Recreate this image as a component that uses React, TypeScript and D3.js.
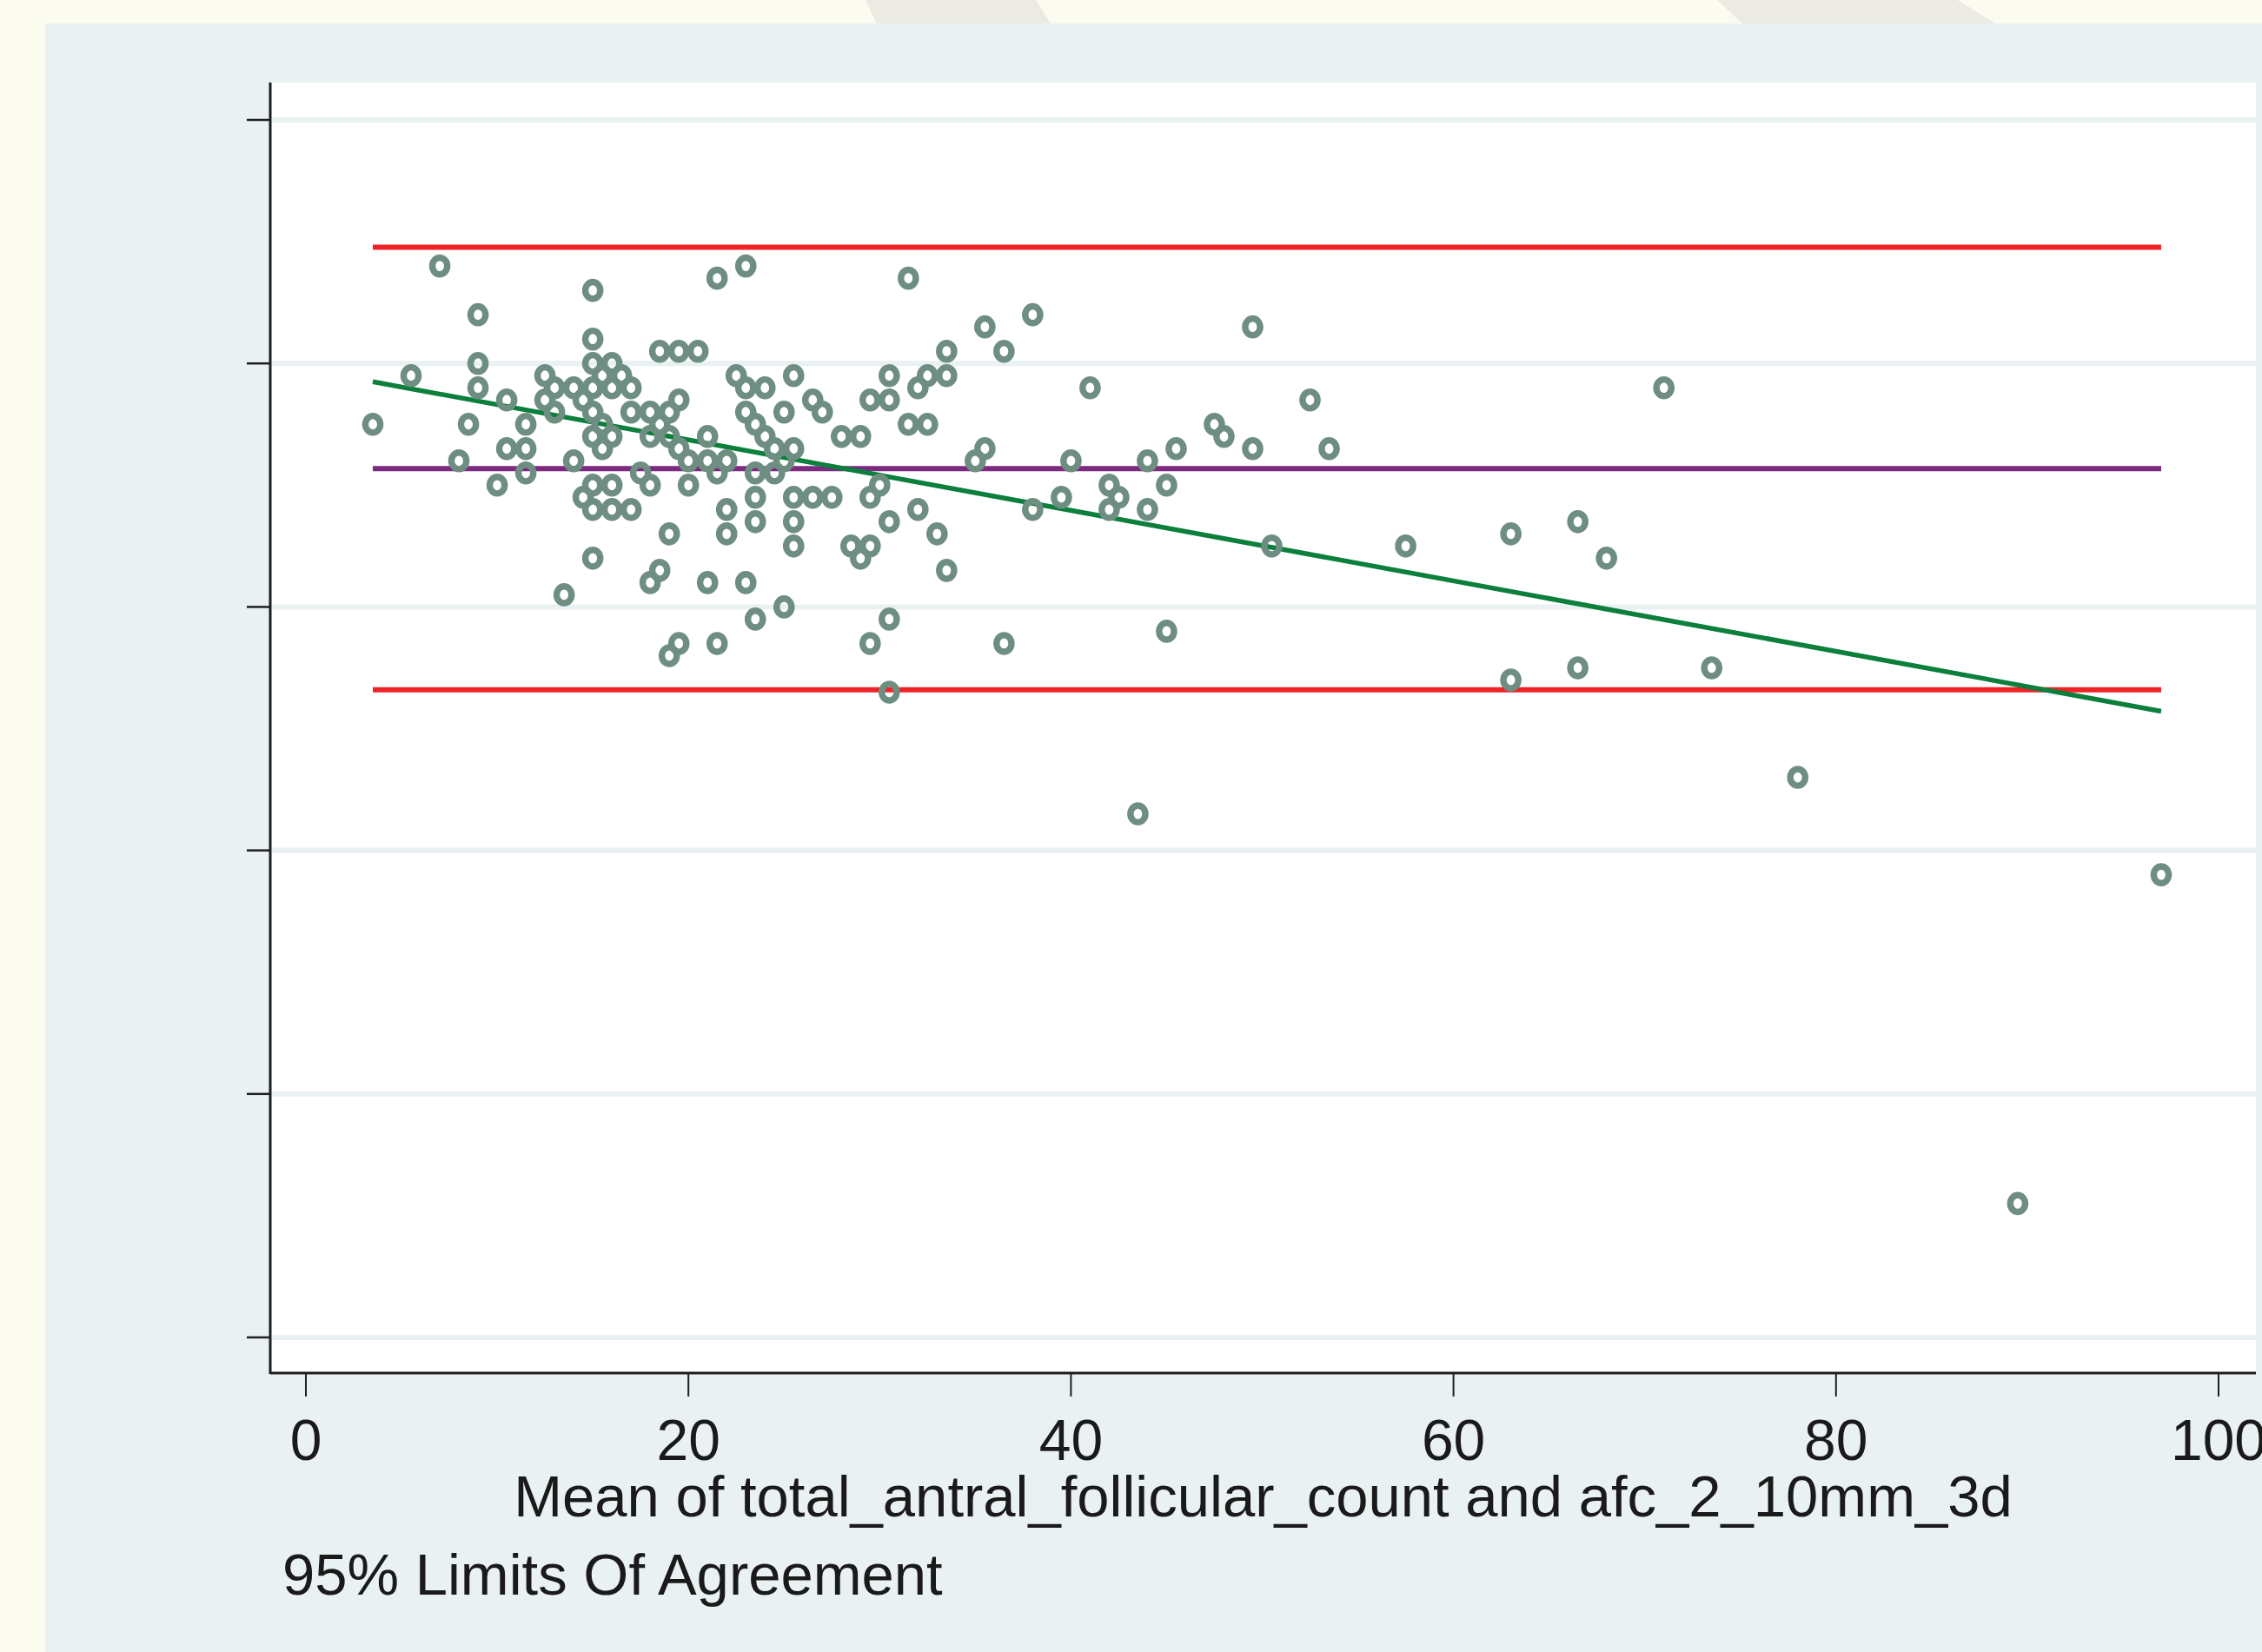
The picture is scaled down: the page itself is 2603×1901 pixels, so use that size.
import React, { useEffect } from "react";
import * as d3 from "d3";

// ---- Data (Bland-Altman: mean of the two counts vs. difference) ----
const meanAFC: number[] = [
  // zone 1 (means <= 24.5)
  7, 23, 21.5, 15, 9, 15, 18.5, 19.5, 20.5, 9, 15, 16,
  5.5, 12.5, 15.5, 16.5, 22.5,
  9, 13, 14, 15, 16, 17, 23, 24,
  10.5, 12.5, 14.5, 19.5,
  13, 15, 17, 18, 19, 23,
  3.5, 8.5, 11.5, 15.5, 18.5, 23.5,
  15, 16, 18, 19, 21, 24,
  10.5, 11.5, 15.5, 19.5, 24.5,
  8, 14, 20, 21, 22,
  11.5, 17.5, 21.5, 23.5, 24.5,
  10, 15, 16, 18, 20,
  14.5, 23.5,
  15, 16, 17, 22,
  23.5,
  19, 22,
  15, 18.5, 18, 21, 23, 13.5, 23.5, 19.5, 21.5, 19,
  // zone 2 (means 25 - 48)
  31.5, 38, 35.5, 33.5, 36.5,
  25.5, 30.5, 32.5, 33.5,
  32, 41,
  26.5, 29.5, 30.5,
  25, 27,
  31.5, 32.5, 47.5,
  28, 29, 48,
  25.5, 35.5, 45.5,
  25, 35, 40, 44,
  30, 42, 45,
  25.5, 26.5, 27.5, 29.5, 39.5, 42.5,
  32, 38, 42, 44,
  25.5, 30.5,
  33,
  25.5, 28.5, 29.5,
  29, 33.5,
  25, 30.5, 45, 29.5, 36.5, 30.5, 43.5,
  // zone 3 (means > 48)
  49.5, 52.5, 49.5, 53.5, 71, 50.5, 57.5, 63, 66.5, 68, 63, 66.5,
  73.5, 78, 97, 89.5,
];

const diffAFC: number[] = [
  28, 28, 27, 26, 24, 22, 21, 21, 21, 20, 20, 20,
  19, 19, 19, 19, 19,
  18, 18, 18, 18, 18, 18, 18, 18,
  17, 17, 17, 17,
  16, 16, 16, 16, 16, 16,
  15, 15, 15, 15, 15, 15,
  14, 14, 14, 14, 14, 14,
  13, 13, 13, 13, 13,
  12, 12, 12, 12, 12,
  11, 11, 11, 11, 11,
  10, 10, 10, 10, 10,
  9, 9,
  8, 8, 8, 8,
  7,
  6, 6,
  4, 3, 2, 2, 2, 1, -1, -3, -3, -4,
  27, 24, 23, 21, 21,
  19, 19, 19, 19,
  18, 18,
  17, 17, 17,
  16, 16,
  15, 15, 15,
  14, 14, 14,
  13, 13, 13,
  12, 12, 12, 12,
  10, 10, 10,
  9, 9, 9, 9, 9, 9,
  8, 8, 8, 8,
  7, 7,
  6,
  5, 5, 5,
  4, 3,
  0, -1, -2, -3, -3, -7, -17,
  23, 17, 13, 13, 18, 5, 5, 6, 7, 4, -6, -5,
  -5, -14, -22, -49,
];

const meanDifference = 11.36;
const upperLimit = 29.55;
const lowerLimit = -6.8;
const regIntercept = 19.51;
const regSlope = -0.2895;

const xTicks: number[] = [0, 20, 40, 60, 80, 100];
const yTicks: number[] = [-60, -40, -20, 0, 20, 40];
const xTitle = "Mean of total_antral_follicular_count and afc_2_10mm_3d";
const noteText = "95% Limits Of Agreement";

// ---- Layout / style ----
const W = 2603;
const H = 1901;
const plotLeft = 311;
const plotRight = 2596;
const plotTop = 95;
const plotBottom = 1580;
const FONT = "'Liberation Sans', Arial, Helvetica, sans-serif";

const COL = {
  outer: "#fbfbef",
  stripe: "#ebebe3",
  panel: "#e9f1f3",
  grid: "#e9f1f3",
  axis: "#1f1f1f",
  marker: "#6f8e82",
  red: "#ee2328",
  purple: "#7b2a7f",
  green: "#0c7f3c",
};

export default function App() {
  useEffect(() => {
    document.body.style.margin = "0";
    document.body.style.overflow = "hidden";
  }, []);

  const x = d3.scaleLinear().domain([0, 100]).range([352, 2553]);
  const y = d3.scaleLinear().domain([-60, 40]).range([1539, 138]);

  const points = meanAFC.map((m, i) => ({ m, d: diffAFC[i] }));
  const xMin = d3.min(meanAFC) as number;
  const xMax = d3.max(meanAFC) as number;

  const regLine = d3
    .line<number>()
    .x((v) => x(v))
    .y((v) => y(regIntercept + regSlope * v));

  const hLines = [
    { v: upperLimit, c: COL.red },
    { v: meanDifference, c: COL.purple },
    { v: lowerLimit, c: COL.red },
  ];

  return (
    <svg
      width={W}
      height={H}
      viewBox={`0 0 ${W} ${H}`}
      style={{ position: "absolute", left: 0, top: 0, display: "block" }}
    >
      <rect x={0} y={0} width={W} height={H} fill={COL.outer} />
      <polygon points="996,0 1192,0 1217,40 1015,40" fill={COL.stripe} />
      <polygon points="1976,0 2253,0 2317,40 2019,40" fill={COL.stripe} />
      <rect x={52} y={27} width={W - 52} height={H - 27} fill={COL.panel} />
      <rect
        x={plotLeft}
        y={plotTop}
        width={plotRight - plotLeft}
        height={plotBottom - plotTop}
        fill="#ffffff"
      />
      {/* gridlines */}
      {yTicks.map((t) => (
        <line
          key={`g${t}`}
          x1={plotLeft + 2}
          x2={plotRight}
          y1={y(t)}
          y2={y(t)}
          stroke={COL.grid}
          strokeWidth={6}
        />
      ))}
      {/* limits of agreement and mean */}
      {hLines.map((h, i) => (
        <line
          key={`h${i}`}
          x1={x(xMin)}
          x2={x(xMax)}
          y1={y(h.v)}
          y2={y(h.v)}
          stroke={h.c}
          strokeWidth={6}
        />
      ))}
      {/* regression line */}
      <path
        d={regLine([xMin, xMax]) || ""}
        fill="none"
        stroke={COL.green}
        strokeWidth={5.5}
      />
      {/* points */}
      {points.map((p, i) => (
        <ellipse
          key={`p${i}`}
          cx={x(p.m)}
          cy={y(p.d)}
          rx={8.6}
          ry={9.6}
          fill="none"
          stroke={COL.marker}
          strokeWidth={7.4}
        />
      ))}
      {/* axes */}
      <line
        x1={plotLeft}
        x2={plotLeft}
        y1={plotTop}
        y2={plotBottom + 1}
        stroke={COL.axis}
        strokeWidth={3}
      />
      <line
        x1={plotLeft}
        x2={plotRight}
        y1={plotBottom}
        y2={plotBottom}
        stroke={COL.axis}
        strokeWidth={3}
      />
      {yTicks.map((t) => (
        <line
          key={`yt${t}`}
          x1={284}
          x2={plotLeft}
          y1={y(t)}
          y2={y(t)}
          stroke={COL.axis}
          strokeWidth={2.5}
        />
      ))}
      {xTicks.map((t) => (
        <g key={`xt${t}`}>
          <line
            x1={x(t)}
            x2={x(t)}
            y1={plotBottom + 1}
            y2={1607}
            stroke={COL.axis}
            strokeWidth={2}
          />
          <text
            x={x(t)}
            y={1680}
            textAnchor="middle"
            fontFamily={FONT}
            fontSize={66}
            fill="#1a1a1a"
          >
            {t}
          </text>
        </g>
      ))}
      <text
        x={(plotLeft + plotRight) / 2}
        y={1745}
        textAnchor="middle"
        fontFamily={FONT}
        fontSize={67}
        fill="#1a1a1a"
      >
        {xTitle}
      </text>
      <text x={325} y={1835} fontFamily={FONT} fontSize={67} fill="#1a1a1a">
        {noteText}
      </text>
    </svg>
  );
}
